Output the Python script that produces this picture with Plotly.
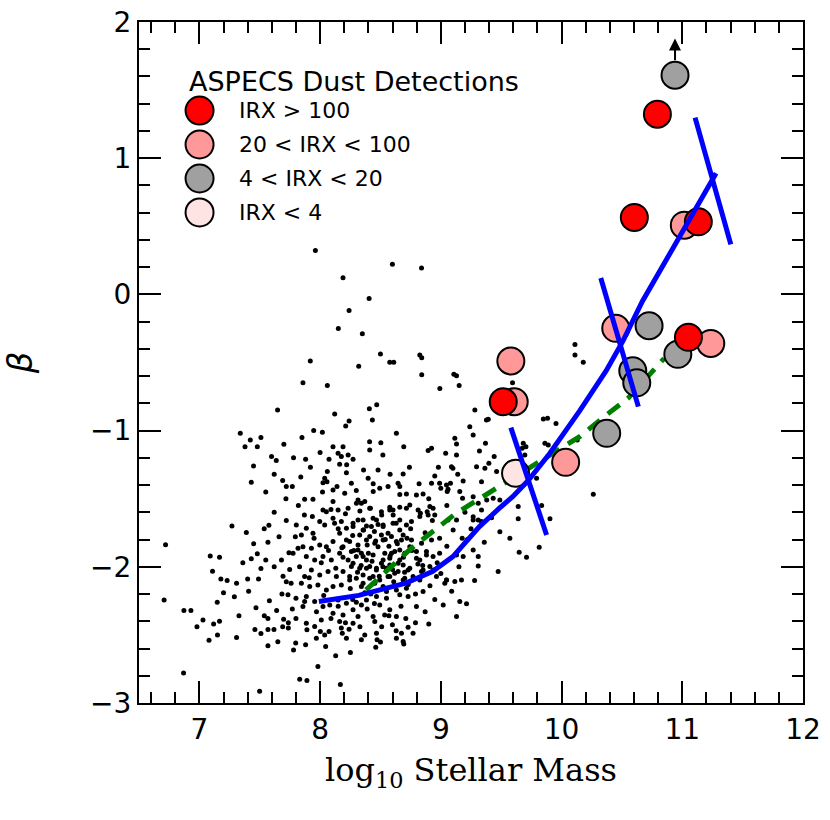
import plotly.graph_objects as go

# field galaxies at z~2: (log10 M*, beta)
dots = [
    # upper part of the cloud
    (7.961, 0.322), (8.599, 0.222), (8.84, 0.193), (8.19, 0.122), (8.406, -0.03),
    (8.24, -0.118), (8.151, -0.25), (8.35, -0.289), (8.5, -0.438), (8.577, -0.499),
    (8.61, -0.499), (8.826, -0.445), (8.842, -0.465), (8.842, -0.59), (7.919, -0.489),
    (8.32, -0.528), (7.858, -0.648), (8.06, -0.668), (9.108, -0.587), (9.13, -0.597),
    (9.152, -0.668), (8.992, -0.69), (8.121, -0.878), (8.24, -0.93), (8.408, -0.839),
    (8.469, -0.81),
    # low-mass side
    (7.648, -0.849), (7.339, -1.02), (7.422, -1.069), (7.51, -1.05), (7.378, -1.118),
    (7.48, -1.118), (7.598, -1.19), (7.637, -1.22), (7.449, -1.26), (7.43, -1.38),
    (7.69, -1.367), (7.72, -1.41), (7.77, -1.41), (7.717, -1.50), (7.27, -1.70),
    (7.389, -1.749), (7.537, -1.72), (7.576, -1.695), (7.568, -1.82), (6.72, -1.839),
    (6.708, -2.243), (7.09, -1.92), (7.167, -1.93), (7.109, -2.033), (7.178, -2.09),
    (7.23, -2.10), (7.308, -2.12), (7.36, -1.971), (7.43, -1.94), (7.48, -1.905),
    (7.51, -2.013), (7.40, -2.09), (7.49, -2.09), (7.20, -2.19), (7.29, -2.22),
    (7.408, -2.18), (7.148, -2.26), (6.872, -2.32), (6.93, -2.32), (7.03, -2.39),
    (6.98, -2.44), (7.08, -2.54), (7.118, -2.42), (7.167, -2.40), (7.15, -2.50),
    (7.308, -2.52), (7.328, -2.36), (7.469, -2.30), (7.46, -2.46), (7.51, -2.49),
    (7.538, -2.36), (7.568, -2.38), (7.568, -2.46), (7.618, -2.46), (7.568, -2.58),
    (6.869, -2.78), (7.499, -2.913), (7.68, -1.95), (7.748, -2.02), (7.693, -2.07),
    (7.72, -2.11), (7.684, -2.20), (7.734, -2.206), (7.80, -2.23), (7.77, -2.31),
    (7.698, -2.385), (7.737, -2.41), (7.737, -2.45), (7.69, -2.44), (7.798, -2.56),
    (7.78, -2.61), (7.803, -1.693), (7.795, -1.78), (7.817, -1.864), (7.776, -1.90),
    (7.742, -1.896),
    (7.62, -1.6), (7.66, -1.78), (7.72, -1.66), (7.76, -2.12), (7.62, -2.0),
    (7.58, -2.25), (7.64, -2.32), (7.8, -2.38), (7.83, -2.0), (7.65, -2.55),
    (7.55, -1.95), (7.45, -1.83), (7.78, -1.2), (7.7, -1.1), (7.85, -1.05),
    (7.62, -1.32), (7.55, -1.45), (7.82, -1.55),
    # main cloud
    (7.947, -1.0), (8.019, -1.013), (8.212, -0.966), (8.433, -0.922), (8.632, -1.02),
    (8.41, -1.081), (8.503, -1.089), (8.693, -1.118), (8.107, -1.118), (8.19, -1.118),
    (8.149, -1.167), (8.232, -1.179), (8.176, -1.19), (8.273, -1.21), (7.88, -1.21),
    (8.074, -1.21), (8.162, -1.247), (8.411, -1.142), (8.895, -1.147), (8.923, -1.13),
    (9.04, -1.167), (9.13, -1.179), (9.116, -1.057), (9.13, -1.098), (9.24, -0.971),
    (9.268, -1.032), (9.378, -0.922), (9.37, -1.093), (9.32, -1.15), (9.442, -1.19),
    (9.398, -1.24), (9.296, -1.265), (9.365, -1.277), (9.462, -1.30), (9.088, -1.265),
    (9.1, -1.277), (8.48, -1.289), (8.218, -1.309), (8.688, -1.318), (8.95, -1.333),
    (9.185, -1.37), (9.337, -1.375), (8.038, -1.35), (8.057, -1.375), (8.024, -1.382),
    (8.259, -1.387), (8.398, -1.35), (8.563, -1.411), (8.646, -1.387), (8.66, -1.41),
    (8.923, -1.387), (8.99, -1.387), (9.0, -1.424), (9.047, -1.40), (9.08, -1.387),
    (9.053, -1.448), (8.107, -1.436), (8.204, -1.46), (8.44, -1.448), (8.494, -1.424),
    (8.715, -1.465), (8.798, -1.473), (8.853, -1.465), (9.157, -1.448), (9.18, -1.497),
    (9.268, -1.485), (9.31, -1.534), (9.38, -1.51), (9.434, -1.497), (9.489, -1.51),
    (9.337, -1.583), (9.268, -1.632), (9.31, -1.656), (9.337, -1.668), (7.872, -1.504),
    (7.941, -1.504), (8.024, -1.583), (8.052, -1.595), (8.107, -1.521), (8.149, -1.583),
    (8.232, -1.57), (8.314, -1.51), (8.342, -1.534), (8.37, -1.521), (8.411, -1.57),
    (8.508, -1.595), (8.577, -1.563), (8.604, -1.583), (8.66, -1.563), (8.743, -1.546),
    (8.812, -1.583), (8.831, -1.607), (8.909, -1.558), (8.936, -1.57), (8.895, -1.62),
    (8.95, -1.62), (9.102, -1.73), (9.177, -1.79), (9.13, -1.656), (9.06, -1.656),
    (9.268, -1.656), (9.489, -1.742), (9.572, -1.79), (9.268, -1.876), (9.31, -1.925),
    (9.31, -1.994), (9.475, -2.035), (9.185, -1.925), (9.13, -1.913), (7.936, -1.631),
    (7.997, -1.668), (7.886, -1.717), (7.845, -1.766), (7.941, -1.754), (8.038, -1.693),
    (8.107, -1.644), (8.12, -1.68), (8.162, -1.754), (8.218, -1.717), (8.273, -1.68),
    (8.314, -1.656), (8.356, -1.729), (8.425, -1.705), (8.467, -1.656), (8.522, -1.705),
    (8.563, -1.754), (8.604, -1.68), (8.66, -1.729), (8.715, -1.693), (8.688, -1.766),
    (8.632, -1.815), (8.522, -1.803), (8.453, -1.827), (8.384, -1.803), (8.314, -1.84),
    (8.245, -1.815), (8.19, -1.852), (8.107, -1.815), (8.052, -1.852), (7.997, -1.84),
    (7.928, -1.864), (7.858, -1.852), (7.886, -1.925), (7.955, -1.95), (8.024, -1.925),
    (8.093, -1.95), (8.162, -1.90), (8.232, -1.95), (8.3, -1.925), (8.342, -1.90),
    (8.384, -1.95), (8.411, -1.998), (8.467, -2.011), (8.522, -1.95), (8.591, -1.90),
    (8.66, -1.876), (8.743, -1.852), (8.798, -1.888), (8.826, -1.95), (8.881, -1.913),
    (8.936, -1.925), (8.99, -1.90), (8.909, -1.998), (8.853, -2.023), (8.743, -2.011),
    (8.646, -1.974), (8.577, -1.986), (8.328, -2.011), (8.259, -1.998), (8.19, -2.035),
    (8.135, -2.072), (8.066, -2.035), (7.997, -2.06), (7.928, -2.023), (7.872, -2.072),
    (7.845, -2.12), (7.914, -2.145), (7.982, -2.133), (8.052, -2.17), (8.107, -2.145),
    (8.176, -2.133), (8.245, -2.096), (8.3, -2.084), (8.356, -2.12), (8.439, -2.072),
    (8.494, -2.096), (8.563, -2.072), (8.618, -2.047), (8.688, -2.096), (8.77, -2.072),
    (8.826, -2.084), (8.964, -2.072), (9.047, -2.096), (9.116, -2.108), (9.171, -2.096),
    (9.033, -2.12), (7.886, -2.218), (7.955, -2.255), (7.858, -2.292), (7.872, -2.255),
    (8.024, -2.292), (8.08, -2.28), (8.149, -2.243), (8.218, -2.267), (8.273, -2.316),
    (8.342, -2.28), (8.384, -2.243), (8.467, -2.218), (8.55, -2.182), (8.632, -2.17),
    (8.715, -2.157), (8.66, -2.206), (8.729, -2.218), (8.798, -2.292), (8.853, -2.182),
    (8.494, -2.28), (8.577, -2.316), (8.535, -2.353), (8.632, -2.365), (8.439, -2.365),
    (8.314, -2.365), (8.19, -2.353), (8.107, -2.341), (9.157, -2.255), (9.213, -2.272),
    (9.13, -2.365),
    # densest part of the cloud
    (8.176, -1.668), (8.273, -1.705), (8.356, -1.656), (8.384, -1.70), (8.439, -1.644),
    (8.522, -1.693), (8.605, -1.62), (8.715, -1.57), (8.757, -1.668), (8.826, -1.631),
    (8.887, -1.595), (8.218, -1.803), (8.328, -1.766), (8.411, -1.778), (8.508, -1.766),
    (8.591, -1.778), (8.674, -1.803), (8.757, -1.803), (8.84, -1.827), (8.923, -1.803),
    (8.259, -1.888), (8.356, -1.925), (8.439, -1.913), (8.536, -1.90), (8.618, -1.888),
    (8.701, -1.90), (8.798, -1.937), (8.881, -1.888), (8.273, -1.974), (8.384, -2.011),
    (8.466, -2.023), (8.549, -2.011), (8.646, -2.035), (8.729, -2.023), (8.84, -2.035),
    (8.936, -2.023), (8.245, -2.072), (8.356, -2.06), (8.453, -2.121), (8.577, -2.072),
    (8.701, -2.084), (8.826, -2.096), (9.047, -2.096), (8.342, -2.145), (8.522, -2.145),
    (8.301, -1.534), (8.417, -1.57), (8.577, -1.583), (8.66, -1.656), (8.48, -1.852),
    (8.577, -1.937), (8.314, -1.876), (8.508, -1.974), (8.688, -1.986), (8.411, -2.084),
    (8.02, -1.45), (8.09, -1.58), (8.15, -1.72), (8.21, -1.61), (8.27, -1.77),
    (8.33, -1.59), (8.39, -1.84), (8.45, -1.74), (8.51, -1.62), (8.57, -1.85),
    (8.63, -1.68), (8.69, -1.93), (8.75, -1.72), (8.81, -1.98), (8.87, -1.75),
    (8.93, -1.66), (8.99, -1.79), (9.05, -1.55), (7.95, -1.79), (8.01, -1.97),
    (8.07, -1.88), (8.13, -2.01), (8.19, -1.93), (8.25, -2.16), (8.31, -2.04),
    (8.37, -2.19), (8.43, -1.96), (8.49, -2.07), (8.55, -2.23), (8.61, -2.11),
    (8.67, -2.29), (8.73, -2.13), (8.79, -2.2), (8.85, -1.99), (8.91, -2.14),
    (8.97, -1.97), (7.87, -1.62), (7.91, -2.08), (7.97, -2.33), (8.03, -2.21),
    (8.09, -2.38), (8.15, -2.29), (8.21, -2.41), (8.27, -2.24), (8.33, -2.44),
    (8.39, -2.31), (8.45, -2.27), (8.51, -2.44), (8.57, -2.36), (8.63, -2.47),
    (8.71, -2.38), (8.79, -2.41), (8.87, -2.33), (8.95, -2.24), (7.84, -1.34),
    (7.92, -1.27), (8.0, -1.16), (8.06, -1.3), (8.14, -1.41), (8.22, -1.25),
    (8.3, -1.44), (8.36, -1.29), (8.44, -1.39), (8.52, -1.18), (8.58, -1.32),
    (8.66, -1.47), (8.74, -1.27), (8.82, -1.39), (8.9, -1.5), (8.98, -1.27),
    (9.06, -1.43), (9.14, -1.32), (8.28, -1.88), (8.34, -1.99), (8.4, -1.9),
    (8.46, -1.81), (8.52, -2.0), (8.58, -1.92), (8.64, -1.83), (8.7, -2.04),
    (8.76, -1.88), (8.42, -2.2), (8.48, -1.69), (8.54, -1.8), (8.6, -2.02),
    (8.66, -1.95), (8.72, -1.79), (8.36, -1.73), (8.3, -2.26), (8.18, -1.86),
    (9.2, -1.6), (9.22, -1.8), (9.15, -2.0), (9.25, -1.72), (9.36, -1.82),
    (9.42, -1.64), (9.05, -1.85), (9.0, -2.05), (9.09, -2.18), (9.28, -2.1),
    (9.02, -2.28), (8.9, -2.42),
    # below the cloud
    (7.886, -2.414), (7.891, -2.463), (7.969, -2.524), (7.88, -2.573), (8.046, -2.585),
    (8.002, -2.475), (8.038, -2.50), (8.074, -2.475), (7.955, -2.438), (8.01, -2.39),
    (8.162, -2.402), (8.176, -2.45), (8.184, -2.487), (8.218, -2.524), (8.24, -2.458),
    (8.273, -2.414), (8.453, -2.402), (8.599, -2.426), (8.729, -2.443), (8.77, -2.487),
    (8.674, -2.487), (8.632, -2.524), (8.688, -2.549), (8.693, -2.566), (8.467, -2.487),
    (8.472, -2.536), (8.5, -2.553), (8.461, -2.59), (8.37, -2.5), (8.342, -2.536),
    (8.251, -2.629), (8.129, -2.654), (7.982, -2.732), (7.831, -2.825), (7.891, -2.835),
    (8.168, -2.864),
    # high-mass side
    (10.111, -0.367), (10.111, -0.445), (10.18, -0.499), (9.594, -0.648), (9.282, -0.849),
    (9.393, -0.917), (9.849, -0.915), (9.884, -0.91), (9.954, -0.947), (9.705, -1.118),
    (9.683, -1.093), (9.862, -1.093), (9.793, -1.35), (9.835, -1.55), (9.904, -1.648),
    (10.263, -1.467), (9.71, -1.93), (9.815, -1.856), (9.641, -1.558), (9.641, -1.648),
    (9.649, -1.893), (9.696, -1.179), (9.674, -1.13), (9.89, -1.106), (10.13, -1.069),
]
dot_mass = [p[0] for p in dots]
dot_beta = [p[1] for p in dots]

# ASPECS dust detections, split by IRX
red_mass = [10.794, 10.603, 11.133, 9.517, 11.051]
red_beta = [1.323, 0.565, 0.533, -0.788, -0.315]
pink_mass = [11.017, 10.449, 11.236, 9.58, 9.608, 10.034]
pink_beta = [0.508, -0.249, -0.36, -0.489, -0.788, -1.233]
gray_mass = [10.94, 10.725, 10.963, 10.59, 10.623, 10.374]
gray_beta = [1.609, -0.230, -0.44, -0.561, -0.649, -1.02]
lpink_mass = [9.619]
lpink_beta = [-1.313]

# stacked relation (blue) and the dashed green relation
blue_mass = [7.99, 8.32, 8.71, 8.93, 9.10, 9.32, 9.485, 9.595, 9.72, 9.90,
             10.15, 10.37, 10.51, 10.67, 10.93, 11.28]
blue_beta = [-2.255, -2.21, -2.12, -2.035, -1.925, -1.705, -1.57, -1.485, -1.37,
             -1.17, -0.855, -0.56, -0.34, -0.05, 0.35, 0.89]
green_mass = [8.38, 8.74, 9.126, 9.51, 10.15, 10.37, 10.55, 10.85]
green_beta = [-2.17, -1.876, -1.607, -1.40, -1.045, -0.886, -0.763, -0.47]

# the three slanted blue bars
bar_mass0 = [9.58, 10.325, 11.106]
bar_beta0 = [-0.978, 0.12, 1.298]
bar_mass1 = [9.876, 10.636, 11.402]
bar_beta1 = [-1.766, -0.824, 0.367]

legend_title = 'ASPECS Dust Detections'
legend_labels = ['IRX > 100', '20 < IRX < 100', '4 < IRX < 20', 'IRX < 4']
legend_colors = ['#FF0000', '#FF9999', '#A0A0A0', '#FFE4E4']

fig = go.Figure()

fig.add_trace(go.Scatter(x=dot_mass, y=dot_beta, mode='markers',
                         marker=dict(size=5, color='black')))
fig.add_trace(go.Scatter(x=green_mass, y=green_beta, mode='lines',
                         line=dict(color='#008000', width=5, dash='15px,10px')))

big = dict(size=27, line=dict(color='black', width=2))
for xs, ys, col in [(pink_mass, pink_beta, legend_colors[1]),
                    (lpink_mass, lpink_beta, legend_colors[3]),
                    (gray_mass, gray_beta, legend_colors[2]),
                    (red_mass, red_beta, legend_colors[0])]:
    fig.add_trace(go.Scatter(x=xs, y=ys, mode='markers',
                             marker=dict(color=col, **big)))

fig.add_trace(go.Scatter(x=blue_mass, y=blue_beta, mode='lines',
                         line=dict(color='#0000FF', width=5)))
for i in range(len(bar_mass0)):
    fig.add_trace(go.Scatter(x=[bar_mass0[i], bar_mass1[i]],
                             y=[bar_beta0[i], bar_beta1[i]], mode='lines',
                             line=dict(color='#0000FF', width=5)))

# lower limit arrow on the top grey point
fig.add_annotation(x=gray_mass[0], y=gray_beta[0] + 0.27, ax=gray_mass[0],
                   ay=gray_beta[0] + 0.1, xref='x', yref='y', axref='x', ayref='y',
                   showarrow=True, arrowhead=2, arrowsize=1.2, arrowwidth=2,
                   arrowcolor='black', text='')

# hand-made legend (big circles)
fig.add_annotation(x=0.073, y=0.912, xref='paper', yref='paper', text=legend_title,
                   showarrow=False, xanchor='left', yanchor='middle',
                   font=dict(family='DejaVu Sans', size=27, color='black'))
for i, (lab, col) in enumerate(zip(legend_labels, legend_colors)):
    yy = 0.870 - i * 0.0499
    fig.add_shape(type='circle', xref='paper', yref='paper',
                  xsizemode='pixel', ysizemode='pixel', xanchor=0.0912, yanchor=yy,
                  x0=-14, x1=14, y0=-14, y1=14,
                  fillcolor=col, line=dict(color='black', width=2))
    fig.add_annotation(x=0.147, y=yy, xref='paper', yref='paper', text=lab,
                       showarrow=False, xanchor='left', yanchor='middle',
                       font=dict(family='DejaVu Sans', size=22, color='black'))

axis_style = dict(showline=True, linewidth=2, linecolor='black', mirror='allticks',
                  ticks='inside', ticklen=22, tickwidth=2, tickcolor='black',
                  showgrid=False, zeroline=False, dtick=1, automargin=False,
                  ticklabeloverflow='allow',
                  tickfont=dict(family='DejaVu Sans', size=28, color='black'),
                  minor=dict(ticks='inside', ticklen=11, tickwidth=2,
                             tickcolor='black', dtick=0.2, showgrid=False))

fig.update_layout(width=830, height=820, showlegend=False,
                  template='plotly_white',
                  plot_bgcolor='white', paper_bgcolor='white',
                  margin=dict(l=139, r=27, t=22, b=117),
                  xaxis=dict(range=[6.5, 12], tick0=7,
                             title=dict(text='log<sub>10</sub> Stellar Mass', standoff=14,
                                        font=dict(family='DejaVu Serif', size=32,
                                                  color='black')),
                             **axis_style),
                  yaxis=dict(range=[-3, 2], tick0=0,
                             title=dict(text='<i>β</i>', standoff=48,
                                        font=dict(family='DejaVu Sans', size=34,
                                                  color='black')),
                             **axis_style))

# drop the default body margin so the figure sits at the page corner
fig.write_html('out.html', config={'displayModeBar': False},
               post_script="document.body.style.margin='0';")
